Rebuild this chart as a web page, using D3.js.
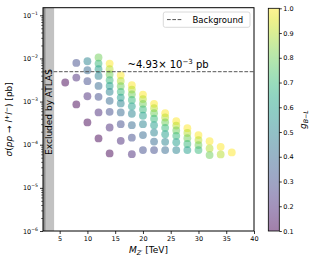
<!DOCTYPE html>
<html lang="en">
<head>
<meta charset="utf-8">
<style>
  body { margin: 0; background: #fff; }
  svg text { font-family: "DejaVu Sans", sans-serif; fill: #000; }
</style>
</head>
<body>
<div id="chart"></div>
<script src="https://d3js.org/d3.v7.min.js"></script>
<script>
// Z' mass columns (TeV), couplings shown in each column and the cross-sections (pb)
var massGrid = [6, 8, 10, 12, 14, 16, 18, 20, 22, 24, 26, 28, 30, 32, 34, 36];
var couplingSets = [
  [0.1],
  [0.3, 0.2, 0.1],
  [0.5, 0.4, 0.3, 0.2, 0.1],
  [0.8, 0.7, 0.6, 0.5, 0.4, 0.3, 0.2, 0.1],
  [1.0, 0.9, 0.8, 0.7, 0.6, 0.5, 0.4, 0.3, 0.2, 0.1],
  [1.0, 0.9, 0.8, 0.7, 0.6, 0.5, 0.4, 0.3, 0.2],
  [1.0, 0.9, 0.8, 0.7, 0.6, 0.5, 0.4, 0.3, 0.2],
  [1.0, 0.9, 0.8, 0.7, 0.6, 0.5, 0.4, 0.3],
  [1.0, 0.9, 0.8, 0.7, 0.6, 0.5, 0.4, 0.3],
  [1.0, 0.9, 0.8, 0.7, 0.6, 0.5, 0.4],
  [1.0, 0.9, 0.8, 0.7, 0.6, 0.5],
  [1.0, 0.9, 0.8, 0.7, 0.6],
  [1.0, 0.9, 0.8, 0.7],
  [1.0, 0.9, 0.8],
  [1.0, 0.9],
  [1.0]
];
var xsecSets = [
  [2.77e-3],
  [7.87e-3, 3.61e-3, 8.57e-4],
  [8.61e-3, 5.33e-3, 2.97e-3, 1.33e-3, 3.28e-4],
  [1.05e-2, 7.62e-3, 5.62e-3, 3.94e-3, 2.31e-3, 1.29e-3, 5.60e-4, 1.40e-4],
  [7.62e-3, 5.62e-3, 4.24e-3, 3.13e-3, 2.31e-3, 1.68e-3, 1.04e-3, 5.78e-4, 2.51e-4, 6.29e-5],
  [4.08e-3, 3.01e-3, 2.27e-3, 1.68e-3, 1.24e-3, 9.04e-4, 5.60e-4, 3.00e-4, 1.23e-4],
  [2.40e-3, 1.90e-3, 1.47e-3, 1.09e-3, 7.78e-4, 5.22e-4, 2.84e-4, 1.46e-4, 6.05e-5],
  [1.45e-3, 1.14e-3, 8.85e-4, 6.59e-4, 4.69e-4, 3.00e-4, 1.67e-4, 7.50e-5],
  [8.85e-4, 7.03e-4, 5.38e-4, 4.02e-4, 2.84e-4, 1.91e-4, 1.18e-4, 7.50e-5],
  [5.38e-4, 4.27e-4, 3.30e-4, 2.46e-4, 1.75e-4, 1.17e-4, 7.50e-5],
  [3.52e-4, 2.78e-4, 2.15e-4, 1.61e-4, 1.14e-4, 7.50e-5],
  [2.42e-4, 1.87e-4, 1.42e-4, 1.04e-4, 7.50e-5],
  [1.67e-4, 1.28e-4, 9.79e-5, 7.50e-5],
  [1.21e-4, 8.21e-5, 5.74e-5],
  [8.93e-5, 5.96e-5],
  [6.64e-5]
];
var background = 4.93e-3;
var excluded = [2, 4];
var xTicks = [5, 10, 15, 20, 25, 30, 35, 40];
var yTicks = [1e-6, 1e-5, 1e-4, 1e-3, 1e-2, 1e-1];
var cbTicks = [0.1, 0.2, 0.3, 0.4, 0.5, 0.6, 0.7, 0.8, 0.9, 1.0];

var W = 315, H = 263;
var plot = { left: 43, right: 254, top: 7.7, bottom: 231 };
var cb = { left: 268.3, right: 279.3, top: 8.3, bottom: 231 };

var svg = d3.select("#chart").append("svg")
  .attr("width", W).attr("height", H);

var x = d3.scaleLinear().domain([2, 40]).range([plot.left, plot.right]);
var y = d3.scaleLog().domain([1e-6, 0.15]).range([plot.bottom, plot.top]);
var gScale = d3.scaleLinear().domain([0.1, 1.0]).range([cb.bottom, cb.top]);
function colorOf(g) { return d3.interpolateViridis((g - 0.1) / 0.9); }

// flatten the columns into points
var points = [];
massGrid.forEach(function (m, i) {
  couplingSets[i].forEach(function (g, j) {
    points.push({ m: m, g: g, s: xsecSets[i][j] });
  });
});

var defs = svg.append("defs");
defs.append("clipPath").attr("id", "clip").append("rect")
  .attr("x", plot.left).attr("y", plot.top)
  .attr("width", plot.right - plot.left).attr("height", plot.bottom - plot.top);

var inner = svg.append("g").attr("clip-path", "url(#clip)");

// excluded region
inner.append("rect")
  .attr("x", x(excluded[0])).attr("y", plot.top)
  .attr("width", x(excluded[1]) - x(excluded[0]))
  .attr("height", plot.bottom - plot.top)
  .attr("fill", "#c2c2c2");
inner.append("rect")
  .attr("x", x(excluded[0])).attr("y", plot.top)
  .attr("width", 2.5).attr("height", plot.bottom - plot.top)
  .attr("fill", "#8f8f8f");

svg.append("text")
  .attr("transform", "translate(" + (x(3) + 3.2) + ",112) rotate(-90)")
  .attr("text-anchor", "middle")
  .attr("font-size", "9px")
  .text("Excluded by ATLAS");

// scatter
inner.selectAll("circle.pt")
  .data(points)
  .enter().append("circle")
  .attr("class", "pt")
  .attr("cx", function (d) { return x(d.m); })
  .attr("cy", function (d) { return y(d.s); })
  .attr("r", 3.9)
  .attr("fill", function (d) { return colorOf(d.g); })
  .attr("fill-opacity", 0.5);

// background line
inner.append("line")
  .attr("x1", plot.left).attr("x2", plot.right)
  .attr("y1", y(background)).attr("y2", y(background))
  .attr("stroke", "#555").attr("stroke-width", 1)
  .attr("stroke-dasharray", "3.7,1.6");

var ann = svg.append("text")
  .attr("x", 127.5).attr("y", y(background) - 4)
  .attr("font-size", "10px");
ann.append("tspan").text("~4.93\u00d7 10");
ann.append("tspan").attr("dy", -4).attr("font-size", "7px").text("\u22123");
ann.append("tspan").attr("dy", 4).text(" pb");

// axes
var xAxis = svg.append("g")
  .attr("transform", "translate(0," + plot.bottom + ")")
  .call(d3.axisBottom(x).tickValues(xTicks).tickSize(3).tickPadding(2).tickFormat(d3.format("d")));
xAxis.select(".domain").remove();
xAxis.selectAll("text").attr("font-size", "6.5px").style("font-family", "DejaVu Sans");
xAxis.selectAll("line").attr("stroke-width", 0.8);

var minor = [];
for (var e = -6; e <= -1; e++) {
  for (var k = 2; k <= 9; k++) minor.push(k * Math.pow(10, e));
}
minor = minor.filter(function (v) { return v <= 0.15; });
var yMinor = svg.append("g")
  .attr("transform", "translate(" + plot.left + ",0)")
  .call(d3.axisLeft(y).tickValues(minor).tickSize(1.8).tickFormat(""));
yMinor.select(".domain").remove();
yMinor.selectAll("line").attr("stroke-width", 0.6);

var yAxis = svg.append("g")
  .attr("transform", "translate(" + plot.left + ",0)")
  .call(d3.axisLeft(y).tickValues(yTicks).tickSize(3).tickPadding(2).tickFormat(""));
yAxis.select(".domain").remove();
yAxis.selectAll("line").attr("stroke-width", 0.8);
yAxis.selectAll(".tick").each(function (d) {
  var t = d3.select(this).append("text")
    .attr("x", -5).attr("dy", "0.32em")
    .attr("text-anchor", "end")
    .attr("font-size", "6.5px")
    .attr("fill", "#000");
  t.append("tspan").text("10");
  t.append("tspan").attr("dy", -3).attr("font-size", "4.6px")
    .text("\u2212" + Math.round(-Math.log10(d)));
});

// frame
svg.append("rect")
  .attr("x", plot.left).attr("y", plot.top)
  .attr("width", plot.right - plot.left).attr("height", plot.bottom - plot.top)
  .attr("fill", "none").attr("stroke", "#000").attr("stroke-width", 1);

// axis labels
var xl = svg.append("text")
  .attr("x", (plot.left + plot.right) / 2).attr("y", 253)
  .attr("text-anchor", "middle").attr("font-size", "9px");
xl.append("tspan").attr("font-style", "italic").text("M");
xl.append("tspan").attr("font-style", "italic").attr("font-size", "6.3px").attr("dy", 2).text("Z\u2032");
xl.append("tspan").attr("dy", -2).text(" [TeV]");

var yl = svg.append("text")
  .attr("transform", "translate(11.5," + ((plot.top + plot.bottom) / 2) + ") rotate(-90)")
  .attr("text-anchor", "middle").attr("font-size", "9px");
yl.append("tspan").attr("font-style", "italic").text("\u03c3");
yl.append("tspan").text("(");
yl.append("tspan").attr("font-style", "italic").text("pp");
yl.append("tspan").text(" \u2192 ");
yl.append("tspan").attr("font-style", "italic").text("l");
yl.append("tspan").attr("font-size", "6.3px").attr("dy", -3).text("+");
yl.append("tspan").attr("font-style", "italic").attr("dy", 3).text("l");
yl.append("tspan").attr("font-size", "6.3px").attr("dy", -3).text("\u2212");
yl.append("tspan").attr("dy", 3).text(") [pb]");

// legend
var lg = svg.append("g");
lg.append("rect")
  .attr("x", 163.3).attr("y", 12).attr("width", 86.7).attr("height", 15.3)
  .attr("rx", 2).attr("fill", "#fff").attr("fill-opacity", 0.8)
  .attr("stroke", "#d0d0d0").attr("stroke-width", 0.8);
lg.append("line")
  .attr("x1", 167).attr("x2", 182).attr("y1", 19.6).attr("y2", 19.6)
  .attr("stroke", "#555").attr("stroke-width", 1)
  .attr("stroke-dasharray", "3.7,1.6");
lg.append("text")
  .attr("x", 192.5).attr("y", 22.6)
  .attr("font-size", "8.5px")
  .text("Background");

// colorbar
var grad = defs.append("linearGradient").attr("id", "vir")
  .attr("x1", 0).attr("x2", 0).attr("y1", 1).attr("y2", 0);
d3.range(0, 1.0001, 0.05).forEach(function (t) {
  grad.append("stop").attr("offset", t).attr("stop-color", d3.interpolateViridis(t));
});
svg.append("rect")
  .attr("x", cb.left).attr("y", cb.top)
  .attr("width", cb.right - cb.left).attr("height", cb.bottom - cb.top)
  .attr("fill", "url(#vir)").attr("fill-opacity", 0.5);
svg.append("rect")
  .attr("x", cb.left).attr("y", cb.top)
  .attr("width", cb.right - cb.left).attr("height", cb.bottom - cb.top)
  .attr("fill", "none").attr("stroke", "#000").attr("stroke-width", 0.8);

var cAxis = svg.append("g")
  .attr("transform", "translate(" + cb.right + ",0)")
  .call(d3.axisRight(gScale).tickValues(cbTicks).tickSize(2.5).tickPadding(1.5).tickFormat(d3.format(".1f")));
cAxis.select(".domain").remove();
cAxis.selectAll("text").attr("font-size", "6.5px").style("font-family", "DejaVu Sans");
cAxis.selectAll("line").attr("stroke-width", 0.8);

var cl = svg.append("text")
  .attr("transform", "translate(306," + ((cb.top + cb.bottom) / 2) + ") rotate(-90)")
  .attr("text-anchor", "middle").attr("font-size", "9px");
cl.append("tspan").attr("font-style", "italic").text("g");
cl.append("tspan").attr("font-style", "italic").attr("font-size", "6.3px").attr("dy", 2).text("B\u2212L");
</script>
</body>
</html>
